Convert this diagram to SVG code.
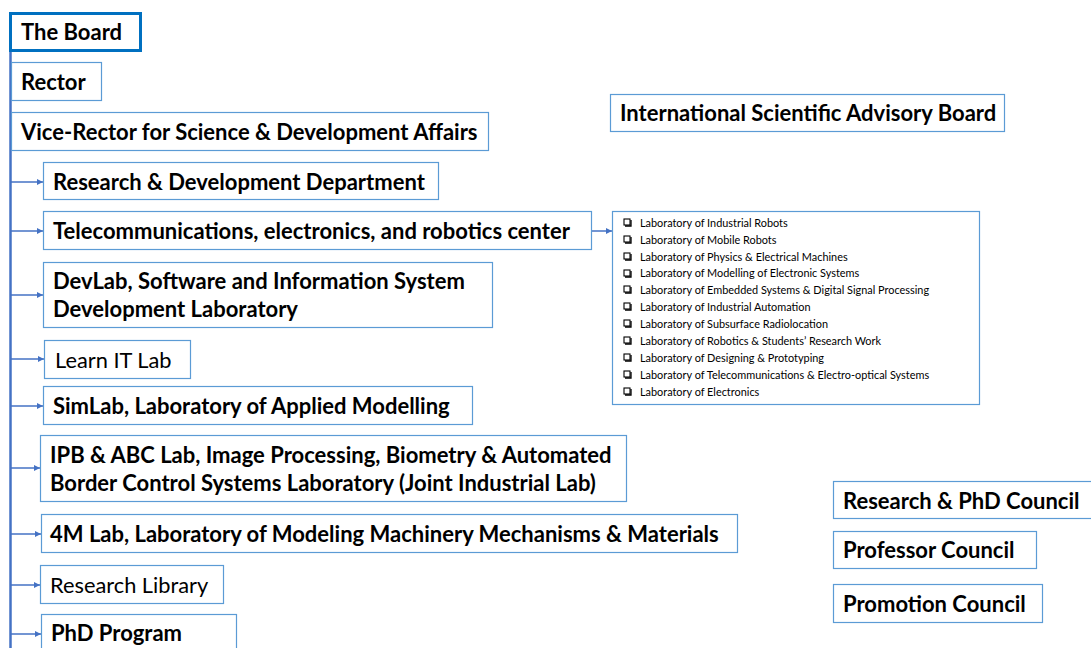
<svg xmlns="http://www.w3.org/2000/svg" width="1091" height="648" viewBox="0 0 1091 648">
<style>
.box{fill:#fff;stroke:#5B9BD5;stroke-width:1.2}
.t{font-family:Lato,"Open Sans",sans-serif;font-size:22px;font-weight:bold;fill:#000}
.r{font-family:Lato,"Open Sans",sans-serif;font-size:21.8px;font-weight:normal;fill:#000}
.s{font-family:Lato,"Open Sans",sans-serif;font-size:10.9px;fill:#000}
.c{fill:none;stroke:#4472C4;stroke-width:1.5}
</style>
<defs>
<marker id="ah" viewBox="0 0 6 6" refX="6" refY="3" markerWidth="6" markerHeight="6" markerUnits="userSpaceOnUse" orient="auto">
<path d="M0,0 L6,3 L0,6 z" fill="#4472C4"/>
</marker>
<g id="chk"><rect x="0" y="0" width="6" height="6" fill="none" stroke="#000" stroke-width="1.1"/><path d="M1,7 H7 V1" fill="none" stroke="#000" stroke-width="1.3"/></g>
</defs>
<g id="connectors">
<line x1="10.5" y1="51" x2="10.5" y2="648" stroke="#4472C4" stroke-width="2.5"/>
<line class="c" x1="11" y1="182" x2="43" y2="182" marker-end="url(#ah)"/>
<line class="c" x1="11" y1="231" x2="43" y2="231" marker-end="url(#ah)"/>
<line class="c" x1="11" y1="295" x2="43" y2="295" marker-end="url(#ah)"/>
<line class="c" x1="11" y1="359" x2="44" y2="359" marker-end="url(#ah)"/>
<line class="c" x1="11" y1="406" x2="43" y2="406" marker-end="url(#ah)"/>
<line class="c" x1="11" y1="468" x2="40" y2="468" marker-end="url(#ah)"/>
<line class="c" x1="11" y1="534" x2="41" y2="534" marker-end="url(#ah)"/>
<line class="c" x1="11" y1="585" x2="40" y2="585" marker-end="url(#ah)"/>
<line class="c" x1="11" y1="634" x2="41" y2="634" marker-end="url(#ah)"/>
<line class="c" x1="592" y1="231" x2="612" y2="231" marker-end="url(#ah)"/>
</g>
<g id="board"><rect x="10.5" y="13.5" width="130" height="37" fill="#fff" stroke="#0070C0" stroke-width="3"/><text class="t" x="21" y="40">The Board</text></g>
<g id="rector"><rect class="box" x="11.5" y="62.5" width="90" height="38"/><text class="t" x="21" y="90">Rector</text></g>
<g id="vicerector"><rect class="box" x="11.5" y="112.5" width="477" height="38"/><text class="t" x="21" y="140">Vice-Rector for Science &amp; Development Affairs</text></g>
<g id="rdd"><rect class="box" x="43.5" y="162.5" width="395" height="37"/><text class="t" x="53" y="190">Research &amp; Development Department</text></g>
<g id="telecom"><rect class="box" x="43.5" y="211.5" width="548" height="38"/><text class="t" x="53" y="239">Telecommunications, electronics, and robotics center</text></g>
<g id="devlab"><rect class="box" x="43.5" y="262.5" width="449" height="65"/><text class="t" x="53" y="289">DevLab, Software and Information System</text><text class="t" x="53" y="317">Development Laboratory</text></g>
<g id="learnit"><rect class="box" x="44.5" y="340.5" width="146" height="38"/><text class="r" x="55" y="368">Learn IT Lab</text></g>
<g id="simlab"><rect class="box" x="43.5" y="386.5" width="429" height="38"/><text class="t" x="53" y="414">SimLab, Laboratory of Applied Modelling</text></g>
<g id="ipb"><rect class="box" x="40.5" y="435.5" width="586" height="66"/><text class="t" x="50" y="463">IPB &amp; ABC Lab, Image Processing, Biometry &amp; Automated</text><text class="t" x="50" y="491">Border Control Systems Laboratory (Joint Industrial Lab)</text></g>
<g id="m4lab"><rect class="box" x="41.5" y="514.5" width="696" height="38"/><text class="t" x="50" y="542">4M Lab, Laboratory of Modeling Machinery Mechanisms &amp; Materials</text></g>
<g id="library"><rect class="box" x="40.5" y="565.5" width="183" height="38"/><text class="r" x="50" y="593">Research Library</text></g>
<g id="phd"><rect class="box" x="41.5" y="614.5" width="195" height="40"/><text class="t" x="51" y="641">PhD Program</text></g>
<g id="labs"><rect class="box" x="612.5" y="211.5" width="367" height="193"/>
<use href="#chk" x="624" y="219"/><use href="#chk" x="624" y="236"/><use href="#chk" x="624" y="253"/><use href="#chk" x="624" y="270"/><use href="#chk" x="624" y="286"/><use href="#chk" x="624" y="303"/><use href="#chk" x="624" y="320"/><use href="#chk" x="624" y="337"/><use href="#chk" x="624" y="354"/><use href="#chk" x="624" y="371"/><use href="#chk" x="624" y="388"/>
<text class="s" x="640" y="227">Laboratory of Industrial Robots</text>
<text class="s" x="640" y="244">Laboratory of Mobile Robots</text>
<text class="s" x="640" y="261">Laboratory of Physics &amp; Electrical Machines</text>
<text class="s" x="640" y="277">Laboratory of Modelling of Electronic Systems</text>
<text class="s" x="640" y="294">Laboratory of Embedded Systems &amp; Digital Signal Processing</text>
<text class="s" x="640" y="311">Laboratory of Industrial Automation</text>
<text class="s" x="640" y="328">Laboratory of Subsurface Radiolocation</text>
<text class="s" x="640" y="345">Laboratory of Robotics &amp; Students’ Research Work</text>
<text class="s" x="640" y="362">Laboratory of Designing &amp; Prototyping</text>
<text class="s" x="640" y="379">Laboratory of Telecommunications &amp; Electro-optical Systems</text>
<text class="s" x="640" y="396">Laboratory of Electronics</text>
</g>
<g id="isab"><rect class="box" x="610.5" y="94.5" width="394" height="37"/><text class="t" x="620" y="121">International Scientific Advisory Board</text></g>
<g id="rphd"><rect class="box" x="833.5" y="481.5" width="262" height="37"/><text class="t" x="843" y="509">Research &amp; PhD Council</text></g>
<g id="prof"><rect class="box" x="833.5" y="531.5" width="203" height="37"/><text class="t" x="843" y="558">Professor Council</text></g>
<g id="promo"><rect class="box" x="833.5" y="584.5" width="209" height="38"/><text class="t" x="843" y="612">Promotion Council</text></g>
</svg>
